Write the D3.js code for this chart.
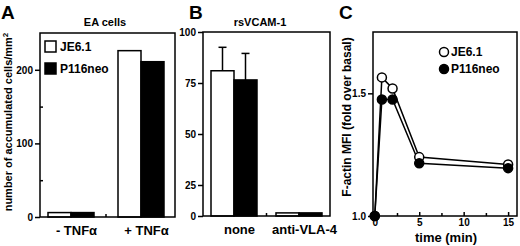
<!DOCTYPE html>
<html>
<head>
<meta charset="utf-8">
<script src="https://cdn.jsdelivr.net/npm/d3@7"></script>
<style>
  body { margin: 0; background: #fff; }
  text { font-family: "Liberation Sans", Arial, sans-serif; font-weight: bold; fill: #000; }
</style>
</head>
<body>
<div id="chart"></div>
<script>
// Panel A - EA cells
const groupsA = ["- TNFα", "+ TNFα"];
const je61A = [6, 226];
const p116A = [6, 211];
const ticksA = [0, 100, 200];
const minorA = [50, 150];

// Panel B - rsVCAM-1
const groupsB = ["none", "anti-VLA-4"];
const je61B = [81, 2.5];
const p116B = [76.5, 2.5];
const je61BTop = [92.5, null];
const p116BTop = [89.5, null];
const ticksB = [0, 25, 50, 75, 100];

// Panel C - F-actin time course
const timeC = [0, 0.8, 2, 5, 15];
const je61C = [1.0, 1.565, 1.52, 1.24, 1.21];
const p116C = [1.0, 1.475, 1.475, 1.215, 1.195];
const xTicksC = [0, 5, 10, 15];
const xMinorC = [2.5, 7.5, 12.5];
const yTicksC = [1.0, 1.5];

const seriesNames = ["JE6.1", "P116neo"];

const svg = d3.select("#chart").append("svg")
    .attr("width", 520)
    .attr("height", 246);

function styleAxis(g, size) {
    g.select(".domain").remove();
    g.selectAll("line").attr("stroke", "#000").attr("stroke-width", 1.5);
    g.selectAll("text").attr("font-size", size).attr("fill", "#000")
        .attr("font-family", "Liberation Sans, Arial, sans-serif").attr("font-weight", "bold");
}

function drawBox(b) {
    svg.append("rect")
        .attr("x", b.x0).attr("y", b.y0)
        .attr("width", b.x1 - b.x0).attr("height", b.y1 - b.y0)
        .attr("fill", "none").attr("stroke", "#000").attr("stroke-width", 1.5);
}

function barPanel(p) {
    const b = p.box;
    const barW = 23;

    // bars
    p.groups.forEach((grp, i) => {
        const cx = p.x(grp);
        [[p.white[i], "#fff", cx - barW], [p.black[i], "#000", cx]].forEach(([v, fill, left]) => {
            svg.append("rect")
                .attr("x", left).attr("y", p.y(v))
                .attr("width", barW).attr("height", p.y(0) - p.y(v))
                .attr("fill", fill).attr("stroke", "#000").attr("stroke-width", 1.5);
        });
        // error bars
        if (p.whiteTop && p.whiteTop[i] != null) {
            [[p.whiteTop[i], p.white[i], cx - barW / 2], [p.blackTop[i], p.black[i], cx + barW / 2]]
                .forEach(([top, v, ex]) => {
                    svg.append("line").attr("x1", ex).attr("x2", ex)
                        .attr("y1", p.y(v)).attr("y2", p.y(top))
                        .attr("stroke", "#000").attr("stroke-width", 1.5);
                    svg.append("line").attr("x1", ex - 4).attr("x2", ex + 4)
                        .attr("y1", p.y(top)).attr("y2", p.y(top))
                        .attr("stroke", "#000").attr("stroke-width", 1.5);
                });
        }
    });

    drawBox(b);

    // y axis
    const ya = svg.append("g")
        .attr("transform", "translate(" + b.x0 + ",0)")
        .call(d3.axisLeft(p.y).tickValues(p.ticks).tickSize(5).tickPadding(2));
    styleAxis(ya, 10);
    if (p.minor) {
        const ym = svg.append("g")
            .attr("transform", "translate(" + b.x0 + ",0)")
            .call(d3.axisLeft(p.y).tickValues(p.minor).tickSize(-3).tickFormat(""));
        styleAxis(ym, 10);
    }

    // small tick between groups
    const mid = (p.x(p.groups[0]) + p.x(p.groups[1])) / 2;
    svg.append("line").attr("x1", mid).attr("x2", mid)
        .attr("y1", b.y1).attr("y2", b.y1 - 3)
        .attr("stroke", "#000").attr("stroke-width", 1.5);

    // category labels
    const xa = svg.append("g")
        .attr("transform", "translate(0," + b.y1 + ")")
        .call(d3.axisBottom(p.x).tickSize(0).tickPadding(9));
    styleAxis(xa, 13);
    xa.selectAll("text").attr("dx", 5);

    // title and panel letter
    svg.append("text").attr("x", p.titleX).attr("y", 26)
        .attr("text-anchor", "middle").attr("font-size", 11).text(p.title);
    svg.append("text").attr("x", p.letterX).attr("y", 19)
        .attr("font-size", 19).text(p.letter);
}

// ---------- Panel A ----------
const boxA = { x0: 40, x1: 175, y0: 33, y1: 217 };
const yA = d3.scaleLinear().domain([0, 250]).range([boxA.y1, boxA.y0]);
const xA = d3.scalePoint().domain(groupsA).range([36, 176]).padding(0.5);
barPanel({
    box: boxA, x: xA, y: yA, groups: groupsA, white: je61A, black: p116A,
    ticks: ticksA, minor: minorA, title: "EA cells", titleX: 105, letter: "A", letterX: 1
});

// legend A
seriesNames.forEach((name, i) => {
    svg.append("rect").attr("x", 45).attr("y", 41 + i * 22)
        .attr("width", 11).attr("height", 11)
        .attr("fill", i === 0 ? "#fff" : "#000").attr("stroke", "#000").attr("stroke-width", 1.5);
    svg.append("text").attr("x", 60).attr("y", 51 + i * 22)
        .attr("font-size", 12).text(name);
});

// y label A
const labA = svg.append("text")
    .attr("transform", "translate(12,122) rotate(-90)")
    .attr("text-anchor", "middle").attr("font-size", 11);
labA.append("tspan").text("number of accumulated cells/mm");
labA.append("tspan").attr("baseline-shift", "super").attr("font-size", 8).text("2");

// ---------- Panel B ----------
const boxB = { x0: 203, x1: 330, y0: 32, y1: 216 };
const yB = d3.scaleLinear().domain([0, 25, 100]).range([boxB.y1, 185, boxB.y0]);
const xB = d3.scalePoint().domain(groupsB).range([201.5, 331.5]).padding(0.5);
barPanel({
    box: boxB, x: xB, y: yB, groups: groupsB, white: je61B, black: p116B,
    whiteTop: je61BTop, blackTop: p116BTop,
    ticks: ticksB, title: "rsVCAM-1", titleX: 260, letter: "B", letterX: 189
});

// ---------- Panel C ----------
const boxC = { x0: 373, x1: 517, y0: 32, y1: 216 };
const xC = d3.scaleLinear().domain([-0.2, 16]).range([boxC.x0, boxC.x1]);
const yC = d3.scaleLinear().domain([1.0, 1.75]).range([boxC.y1, boxC.y0]);

drawBox(boxC);

const yaC = svg.append("g")
    .attr("transform", "translate(" + boxC.x0 + ",0)")
    .call(d3.axisLeft(yC).tickValues(yTicksC).tickSize(5).tickPadding(2).tickFormat(d3.format(".1f")));
styleAxis(yaC, 10);

const xaC = svg.append("g")
    .attr("transform", "translate(0," + boxC.y1 + ")")
    .call(d3.axisBottom(xC).tickValues(xTicksC).tickSize(-4).tickPadding(3));
styleAxis(xaC, 10);
const xmC = svg.append("g")
    .attr("transform", "translate(0," + boxC.y1 + ")")
    .call(d3.axisBottom(xC).tickValues(xMinorC).tickSize(-3).tickFormat(""));
styleAxis(xmC, 10);

const line = d3.line()
    .x(d => xC(d[0]))
    .y(d => yC(d[1]));

[je61C, p116C].forEach((vals, i) => {
    const pts = timeC.map((t, k) => [t, vals[k]]);
    svg.append("path").datum(pts)
        .attr("d", line).attr("fill", "none")
        .attr("stroke", "#000").attr("stroke-width", 1.5);
});
[je61C, p116C].forEach((vals, i) => {
    svg.selectAll(null).data(timeC.map((t, k) => [t, vals[k]]))
        .enter().append("circle")
        .attr("cx", d => xC(d[0])).attr("cy", d => yC(d[1]))
        .attr("r", 4.5)
        .attr("fill", i === 0 ? "#fff" : "#000")
        .attr("stroke", "#000").attr("stroke-width", 1.5);
});

// legend C
seriesNames.forEach((name, i) => {
    svg.append("circle").attr("cx", 444).attr("cy", 52 + i * 17).attr("r", 4.5)
        .attr("fill", i === 0 ? "#fff" : "#000").attr("stroke", "#000").attr("stroke-width", 1.5);
    svg.append("text").attr("x", 451).attr("y", 56 + i * 17)
        .attr("font-size", 12).text(name);
});

svg.append("text")
    .attr("transform", "translate(351,117) rotate(-90)")
    .attr("text-anchor", "middle").attr("font-size", 12)
    .text("F-actin MFI (fold over basal)");
svg.append("text").attr("x", 446).attr("y", 242)
    .attr("text-anchor", "middle").attr("font-size", 13).text("time (min)");
svg.append("text").attr("x", 339).attr("y", 19)
    .attr("font-size", 19).text("C");
</script>
</body>
</html>
